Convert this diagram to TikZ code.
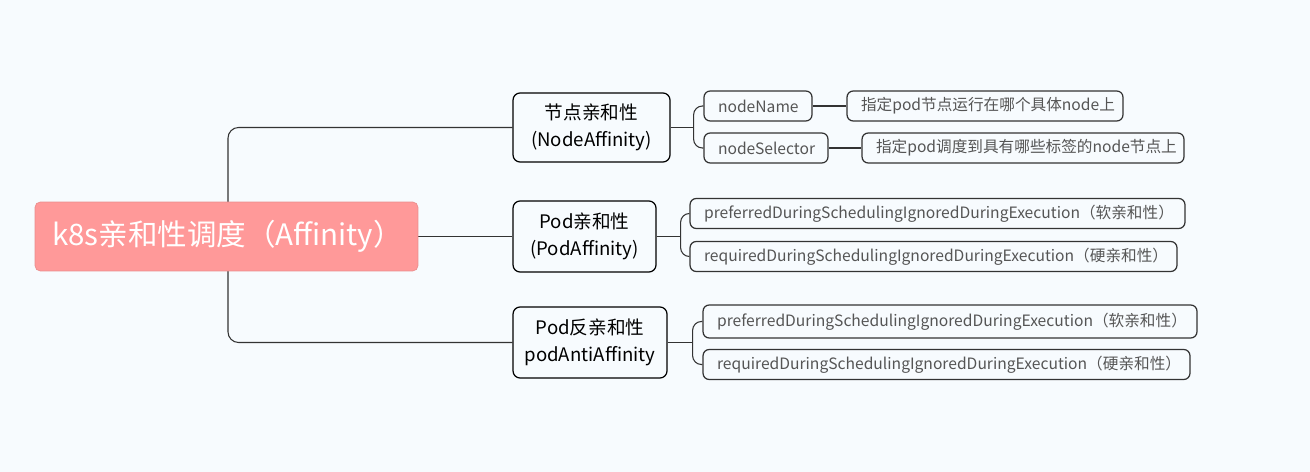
\documentclass[tikz,border=0pt]{standalone}
\usepackage{fontspec}
\setmainfont{Noto Sans CJK SC}
\usepackage{tikz}
\usetikzlibrary{backgrounds}
\definecolor{bgpale}{RGB}{247,251,254}
\definecolor{rootpink}{RGB}{255,153,153}
\definecolor{linedark}{RGB}{51,51,51}
\definecolor{leafgray}{RGB}{85,85,85}

\begin{document}
\begin{tikzpicture}[x=0.02cm,y=-0.02cm,
    rootbox/.style={fill=rootpink,draw=rootpink!92!black,rounded corners=3pt,text=white,align=left,
        font=\fontsize{16.8}{19}\selectfont,text width=6.98cm,inner xsep=0.34cm,inner ysep=0pt,minimum height=1.38cm},
    kindbox/.style={draw=black,fill=bgpale,rounded corners=4pt,line width=0.7pt,align=center,
        font=\fontsize{10.6}{15.3}\selectfont,inner sep=0pt},
    leafbox/.style={draw=linedark,fill=bgpale,rounded corners=3.5pt,line width=0.7pt,text=leafgray,align=left,
        font=\fontsize{8.9}{10}\selectfont,inner xsep=0.28cm,inner ysep=0pt,minimum height=0.6cm},
    conn/.style={draw=linedark,line width=0.6pt}]
    \useasboundingbox (0,0) rectangle (1310,472);

    % root
    \node[rootbox] (root) at (226.5,236.5) {k8s亲和性调度（Affinity）};
    \coordinate (trunk) at (228,236.5);

    % affinity kinds
    \node[kindbox,minimum width=3.14cm,minimum height=1.38cm] (na) at (591.5,127.5) {节点亲和性\\(NodeAffinity)};
    \node[kindbox,minimum width=2.86cm,minimum height=1.42cm] (pa) at (584.5,236.5) {Pod亲和性\\(PodAffinity)};
    \node[kindbox,minimum width=3.08cm,minimum height=1.42cm] (aa) at (590,342.5) {Pod反亲和性\\podAntiAffinity};

    % node affinity leaves (text width = box width - 0.56cm)
    \node[leafbox,text width=1.6cm] (nname) at (758,106) {nodeName};
    \node[leafbox,text width=1.92cm] (nsel) at (766,148) {nodeSelector};
    \node[leafbox,text width=4.96cm] (nnamedesc) at (985,106) {指定pod节点运行在哪个具体node上};
    \node[leafbox,text width=5.88cm] (nseldesc) at (1023,148) {指定pod调度到具有哪些标签的node节点上};

    % pod affinity leaves
    \node[leafbox,text width=9.34cm] (ppref) at (937.5,213.5) {preferredDuringSchedulingIgnoredDuringExecution（软亲和性）};
    \node[leafbox,text width=9.18cm] (preq) at (933.5,256.5) {requiredDuringSchedulingIgnoredDuringExecution（硬亲和性）};

    % pod anti affinity leaves
    \node[leafbox,text width=9.32cm,minimum height=0.66cm] (apref) at (950,321.5) {preferredDuringSchedulingIgnoredDuringExecution（软亲和性）};
    \node[leafbox,text width=9.18cm] (areq) at (946.5,364.5) {requiredDuringSchedulingIgnoredDuringExecution（硬亲和性）};

    \begin{scope}[on background layer]
        \fill[bgpale] (0,0) rectangle (1310,472);
        % trunk
        \draw[conn] (root.east) -- (pa.west);
        \draw[conn,rounded corners=6pt] (trunk) |- (na.west);
        \draw[conn,rounded corners=6pt] (trunk) |- (aa.west);
        % forks
        \draw[conn] (na.east) -- ++(23,0) coordinate (fork1);
        \draw[conn,rounded corners=5pt] (fork1) |- (nname.west);
        \draw[conn,rounded corners=5pt] (fork1) |- (nsel.west);
        \draw[conn] (nname.east) -- (nnamedesc.west);
        \draw[conn] (nsel.east) -- (nseldesc.west);

        \draw[conn] (pa.east) -- ++(24,0) coordinate (fork2);
        \draw[conn,rounded corners=5pt] (fork2) |- (ppref.west);
        \draw[conn,rounded corners=5pt] (fork2) |- (preq.west);

        \draw[conn] (aa.east) -- ++(25,0) coordinate (fork3);
        \draw[conn,rounded corners=5pt] (fork3) |- (apref.west);
        \draw[conn,rounded corners=5pt] (fork3) |- (areq.west);
    \end{scope}
\end{tikzpicture}
\end{document}
